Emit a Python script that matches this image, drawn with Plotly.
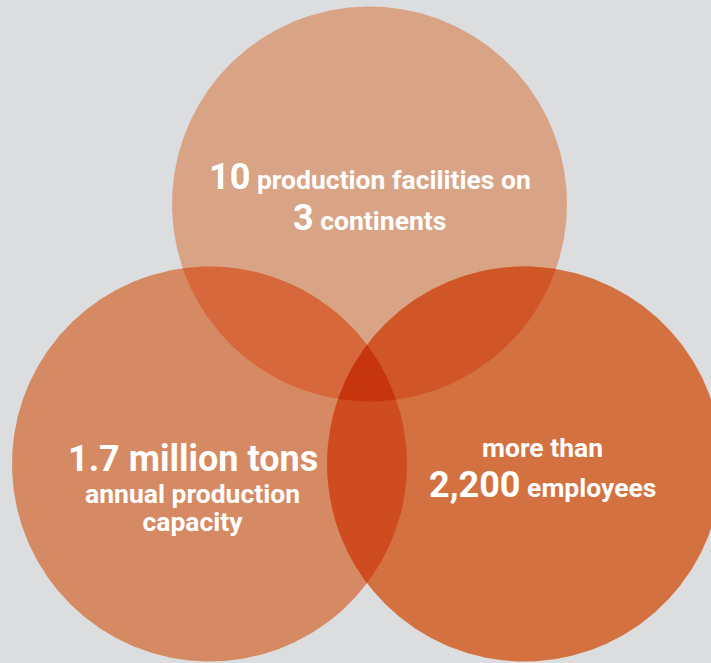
import numpy as np
import plotly.graph_objects as go

# ---- data ----
circle_names = ["top", "left", "right"]
region_colors = {
    "top": "#d9a485",
    "left": "#d58a63",
    "right": "#d47140",
    "top+left": "#d6683c",
    "top+right": "#d05627",
    "left+right": "#cf4b20",
    "top+left+right": "#c7350f",
}
# text per circle: list of text blocks, each block a list of (big part, small part) lines
top_lines = [[("10", " production facilities on")], [("3", " continents")]]
left_lines = [[("1.7 million tons", "")], [("", "annual production"), ("", "capacity")]]
right_lines = [[("", "more than")], [("2,200", " employees")]]

# ---- layout geometry (pixel-like axes) ----
W, H = 711, 663
R = 197.5
centers = {"top": (369.5, 204.0), "left": (209.5, 464.0), "right": (524.5, 464.0)}

BG = "#dcdddf"
BIG = 36
SMALL = 26.5
FONT = "Roboto"


def region_polygon(names, n=900):
    cs = [np.array(centers[k]) for k in names]
    p = np.mean(cs, axis=0)
    th = np.linspace(0, 2 * np.pi, n)
    u = np.stack([np.cos(th), np.sin(th)], axis=1)
    rs = []
    for c in cs:
        d = p - c
        b = u @ d
        cc = d @ d - R * R
        rs.append(-b + np.sqrt(b * b - cc))
    r = np.min(np.stack(rs), axis=0)
    pts = p + u * r[:, None]
    return pts[:, 0], pts[:, 1]


fig = go.Figure()
for key in ["top", "left", "right", "top+left", "top+right", "left+right", "top+left+right"]:
    xs, ys = region_polygon(key.split("+"))
    fig.add_trace(go.Scatter(x=xs, y=ys, mode="lines", fill="toself",
                             fillcolor=region_colors[key], line=dict(width=0, color=region_colors[key]),
                             hoverinfo="skip", showlegend=False))


def fmt(big, small):
    s = ""
    if big:
        s += f"<span style='font-size:{BIG}px'>{big}</span>"
    if small:
        s += f"<span style='font-size:{SMALL}px'>{small}</span>"
    return s


block_pos = {
    "top": [(369.5, 177), (369.5, 218)],
    "left": [(192.5, 459), (192.5, 507)],
    "right": [(542.5, 447), (542.5, 485)],
}
for name, blocks in zip(circle_names, [top_lines, left_lines, right_lines]):
    for block, (x, y) in zip(blocks, block_pos[name]):
        text = "<br>".join(fmt(b, s) for b, s in block)
        fig.add_annotation(x=x, y=y, xref="x", yref="y", text=text,
                           showarrow=False, xanchor="center", yanchor="middle", align="center",
                           font=dict(family=FONT, color="white", size=21.5, weight="bold"))

fig.update_layout(
    width=W, height=H, margin=dict(l=0, r=0, t=0, b=0),
    paper_bgcolor=BG, plot_bgcolor=BG,
    xaxis=dict(range=[0, W], visible=False, fixedrange=True),
    yaxis=dict(range=[H, 0], visible=False, fixedrange=True),
)
fig.write_html("out.html", config={"displayModeBar": False},
               post_script="document.body.style.margin='0';document.body.style.overflow='hidden';")
